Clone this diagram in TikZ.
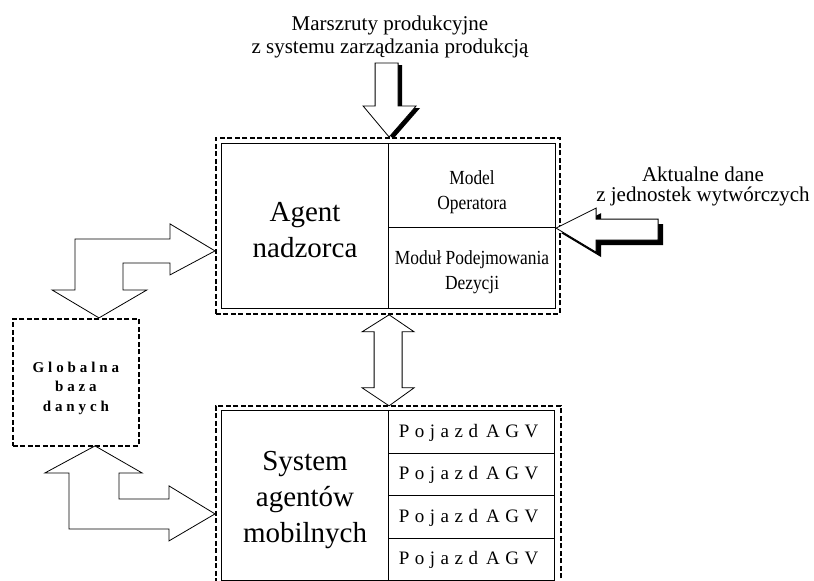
\documentclass[tikz,border=0pt]{standalone}
\usepackage{fontspec}
\setmainfont{Liberation Serif}
\newfontfamily\narrowfont[FakeStretch=0.87]{Liberation Serif}
\newfontfamily\spacedfont[LetterSpace=29]{Liberation Serif}
\newfontfamily\widefont[LetterSpace=26]{Liberation Serif}
\usetikzlibrary{calc, positioning}

\begin{document}
\begin{tikzpicture}[x=1pt, y=-1pt]
    \tikzstyle{frameD}=[draw, line width=1.8pt, dash pattern=on 5pt off 2.5pt, inner sep=0pt, anchor=north west]
    \tikzstyle{cellS}=[draw, line width=1.1pt, inner sep=0pt, anchor=north west]
    \tikzstyle{txt}=[inner sep=0pt, align=center]
    \tikzstyle{blockA}=[draw, fill=white, line width=0.8pt, line join=miter]
    \tikzstyle{shadeA}=[fill=black]
    \def \bigF {\fontsize{29}{36}\selectfont}
    \def \midF {\narrowfont\fontsize{20}{25}\selectfont}
    \useasboundingbox (0,0) rectangle (814,581);
    % supervisor block
    \node[frameD, minimum width=344pt, minimum height=176pt] (supframe) at (215,137) {};
    \node[cellS, minimum width=167pt, minimum height=165pt] (agent) at (221,143) {};
    \node[cellS, minimum width=167pt, minimum height=84pt] (model) at (388,143) {};
    \node[cellS, minimum width=167pt, minimum height=81pt] (modul) at (388,227) {};
    \node[txt, font=\bigF] (agentT) at ([yshift=-4pt]agent.center) {Agent\\nadzorca};
    \node[txt, font=\midF] (modelT) at ([yshift=-7pt]model.center) {Model\\Operatora};
    \node[txt, font=\midF] (modulT) at ([yshift=-4pt]modul.center) {Moduł Podejmowania\\Dezycji};
    % mobile agents block
    \node[frameD, minimum width=345pt, minimum height=180pt] (mobframe) at (215,405) {};
    \node[cellS, minimum width=167pt, minimum height=170pt] (mobile) at (221,410) {};
    \node[txt, font=\bigF] (mobileT) at ([yshift=-4pt]mobile.center) {System\\agentów\\mobilnych};
    \foreach \i in {0,...,3}{
        \node[cellS, minimum width=166pt, minimum height=42.5pt] (agv\i) at (388,410+42.5*\i) {};
        \node[txt, font=\spacedfont\fontsize{19}{20}\selectfont] (agvT\i) at ([xshift=-3pt,yshift=-1pt]agv\i.center) {Pojazd\hspace{8pt}AGV};
    }
    % database
    \node[frameD, minimum width=126pt, minimum height=127pt] (gdb) at (12,318) {};
    \node[txt, font=\widefont\bfseries\fontsize{15}{19.5}\selectfont] (gdbT) at ([yshift=-6pt]gdb.center) {Globalna\\baza\\danych};
    % external inputs
    \node[txt, font=\fontsize{21}{23}\selectfont] (routes) at (390,37) {Marszruty produkcyjne\\z systemu zarządzania produkcją};
    \node[txt, font=\fontsize{21}{20}\selectfont] (newdata) at (703,186) {Aktualne dane\\z jednostek wytwórczych};
    \coordinate (tTop) at (supframe.north -| agent.east);
    \coordinate (tRight) at (model.south east);
    \coordinate (tUp) at ([yshift=-25pt]supframe.west);
    \coordinate (tLow) at ([yshift=-18pt]mobframe.west);
    \coordinate (tMid) at (supframe.south -| agent.east);
    % arrow from routes
    \fill[shadeA] ([xshift=4pt,yshift=-2pt]tTop) -- ++(-26,-31) -- ++(12,0) -- ++(0,-43) -- ++(23,0) -- ++(0,43) -- ++(18,0) -- cycle;
    \draw[blockA] (tTop) -- ++(-26,-31) -- ++(12,0) -- ++(0,-43) -- ++(23,0) -- ++(0,43) -- ++(18,0) -- cycle;
    % arrow from new data
    \fill[shadeA] ([xshift=5pt,yshift=-5pt]tRight) -- ++(40,-20) -- ++(0,11) -- ++(62,0) -- ++(0,21) -- ++(-62,0) -- ++(0,12) -- cycle;
    \draw[blockA] (tRight) -- ++(40,-20) -- ++(0,11) -- ++(62,0) -- ++(0,21) -- ++(-62,0) -- ++(0,12) -- cycle;
    % database <-> supervisor
    \draw[blockA] (tUp) -- ++(-45,-27) -- ++(0,15) -- ++(-95,0) -- ++(0,51) -- ++(-23,0) -- ++(47,28)
        -- ++(48,-28) -- ++(-24,0) -- ++(0,-27) -- ++(47,0) -- ++(0,12) -- cycle;
    % database <-> mobile agents
    \draw[blockA] (tLow) -- ++(-46,-28) -- ++(0,13) -- ++(-50,0) -- ++(0,-26) -- ++(23,0) -- ++(-47,-27)
        -- ++(-50,27) -- ++(24,0) -- ++(0,56) -- ++(100,0) -- ++(0,12) -- cycle;
    % supervisor <-> mobile agents
    \draw[blockA] (tMid) -- ++(25,17) -- ++(-12,0) -- ++(0,56) -- ++(12,0) -- ++(-25,18) -- ++(-27,-18)
        -- ++(12,0) -- ++(0,-56) -- ++(-12,0) -- cycle;
\end{tikzpicture}
\end{document}
